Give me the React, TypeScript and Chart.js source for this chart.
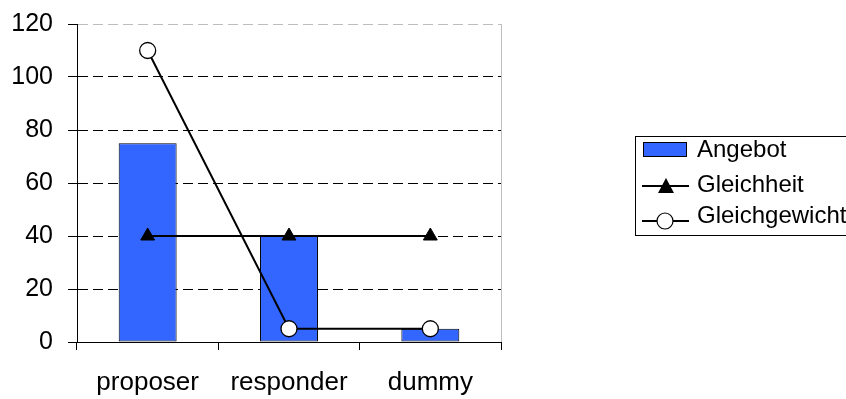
import React, { useEffect, useRef } from "react";
import { Chart, registerables } from "chart.js";

Chart.register(...registerables);

const categories = ["proposer", "responder", "dummy"];
const angebot = [75, 40, 5];
const gleichheit = [40, 40, 40];
const gleichgewicht = [110, 5, 5];
const seriesNames = ["Angebot", "Gleichheit", "Gleichgewicht"];

const FONT = "'Liberation Sans', Arial, sans-serif";

const legendPlugin = {
  id: "customLegend",
  afterDraw(chart: any) {
    const ctx = chart.ctx as CanvasRenderingContext2D;
    const x0 = 635, y0 = 136, w = 220, h = 99;
    ctx.save();
    ctx.strokeStyle = "#000";
    ctx.lineWidth = 1;
    ctx.strokeRect(x0 + 0.5, y0 + 0.5, w, h);
    // bar sample
    ctx.fillStyle = "#3366FF";
    ctx.fillRect(643, 142, 43, 14);
    ctx.strokeRect(643.5, 142.5, 43, 14);
    const lineYs = [0, 186, 221];
    for (let i = 1; i < 3; i++) {
      const y = lineYs[i];
      ctx.beginPath();
      ctx.strokeStyle = "#000";
      ctx.lineWidth = 2;
      ctx.moveTo(642, y);
      ctx.lineTo(689, y);
      ctx.stroke();
      if (i === 1) {
        ctx.fillStyle = "#000";
        ctx.beginPath();
        ctx.moveTo(666, y - 8);
        ctx.lineTo(674, y + 7);
        ctx.lineTo(658, y + 7);
        ctx.closePath();
        ctx.fill();
      } else {
        ctx.fillStyle = "#fff";
        ctx.lineWidth = 1.2;
        ctx.beginPath();
        ctx.arc(665, y, 8, 0, Math.PI * 2);
        ctx.fill();
        ctx.stroke();
      }
    }
    ctx.font = `24px ${FONT}`;
    ctx.fillStyle = "#000";
    ctx.textBaseline = "alphabetic";
    ctx.textAlign = "left";
    const baselines = [157, 192, 223];
    seriesNames.forEach((n, i) => ctx.fillText(n, 697, baselines[i]));
    ctx.restore();
  },
};

const frameLines = {
  id: "frameLines",
  beforeDatasetsDraw(chart: any) {
    const { ctx, chartArea } = chart;
    ctx.save();
    ctx.strokeStyle = "#BDBDBD";
    ctx.lineWidth = 1;
    ctx.beginPath();
    ctx.moveTo(chartArea.right + 0.5, chartArea.top);
    ctx.lineTo(chartArea.right + 0.5, chartArea.bottom);
    ctx.stroke();
    ctx.restore();
  },
};

export default function App() {
  const ref = useRef<HTMLCanvasElement>(null);
  useEffect(() => {
    document.body.style.margin = "0";
    const chart = new Chart(ref.current!, {
      type: "bar",
      data: {
        labels: categories,
        datasets: [
          {
            type: "line",
            label: seriesNames[2],
            data: gleichgewicht,
            borderColor: "#000",
            borderWidth: 2,
            pointStyle: "circle",
            pointRadius: 8,
            pointBackgroundColor: "#fff",
            pointBorderColor: "#000",
            pointBorderWidth: 1.3,
            tension: 0,
            order: 1,
          } as any,
          {
            type: "line",
            label: seriesNames[1],
            data: gleichheit,
            borderColor: "#000",
            borderWidth: 2,
            pointStyle: "triangle",
            pointRadius: 8,
            pointBackgroundColor: "#000",
            pointBorderColor: "#000",
            pointBorderWidth: 1,
            tension: 0,
            order: 2,
          } as any,
          {
            type: "bar",
            label: seriesNames[0],
            data: angebot,
            backgroundColor: "#3366FF",
            borderColor: "#000",
            borderWidth: 1,
            borderSkipped: false,
            barPercentage: 0.41,
            categoryPercentage: 1,
            order: 3,
          },
        ],
      },
      options: {
        animation: false,
        responsive: false,
        layout: { padding: { top: 24, right: 345, left: 0, bottom: 0 } },
        plugins: { legend: { display: false }, tooltip: { enabled: false } },
        scales: {
          x: {
            offset: true,
            grid: {
              offset: true,
              drawOnChartArea: false,
              drawTicks: true,
              tickLength: 8,
              color: "#000",
            },
            border: { color: "#000", width: 1 },
            ticks: {
              color: "#000",
              font: { family: FONT, size: 26 },
              padding: 17,
            },
            afterFit(scale: any) {
              scale.height = 57;
              scale.paddingLeft = 0;
              scale.paddingRight = 0;
            },
          },
          y: {
            min: 0,
            max: 120,
            ticks: {
              stepSize: 20,
              color: "#000",
              font: { family: FONT, size: 25 },
              padding: 15,
            },
            grid: {
              color: (c: any) => (c.tick && c.tick.value === 120 ? "#BDBDBD" : "#000"),
              tickColor: "#000",
              tickLength: 9,
              tickBorderDash: [],
              drawTicks: true,
            },
            border: { color: "#000", width: 1, dash: [10, 5] } as any,
            afterFit(scale: any) {
              scale.width = 77;
              scale.paddingTop = 0;
              scale.paddingBottom = 0;
            },
          },
        },
      },
      plugins: [frameLines, legendPlugin],
    });
    return () => chart.destroy();
  }, []);
  return (
    <div style={{ position: "absolute", left: 0, top: 0, width: 846, height: 399 }}>
      <canvas ref={ref} width={846} height={399} />
    </div>
  );
}
